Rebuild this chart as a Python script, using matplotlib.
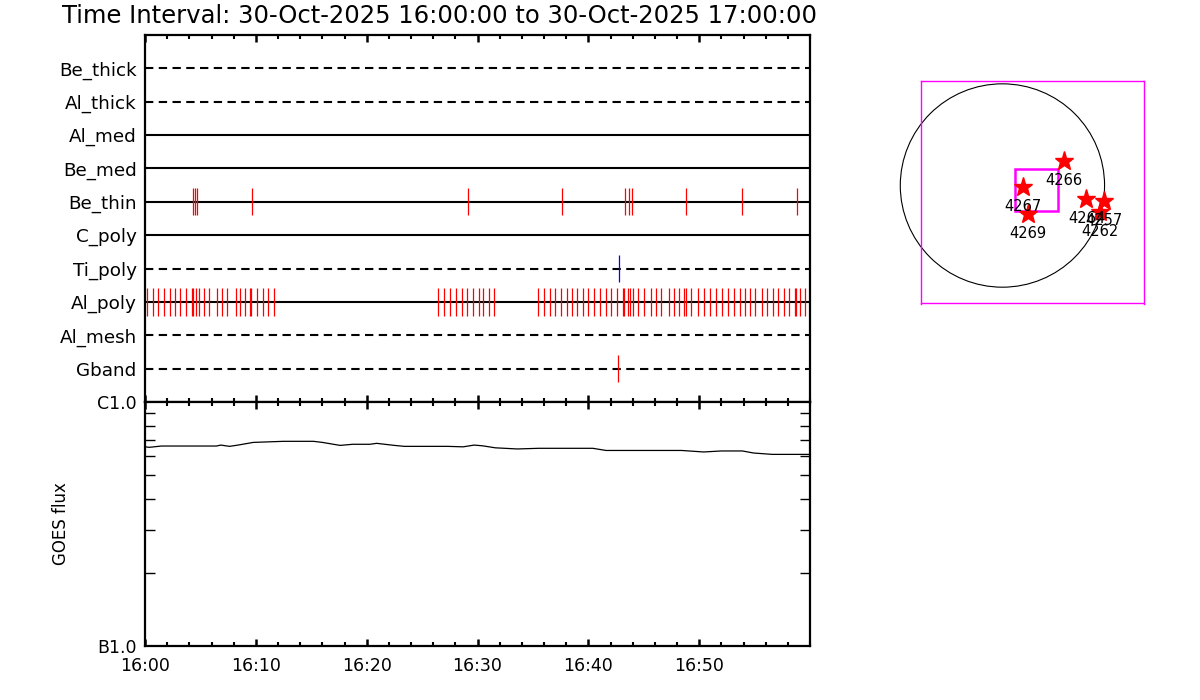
import matplotlib
matplotlib.use("Agg")
import matplotlib.pyplot as plt
import numpy as np
from matplotlib.patches import Circle, Rectangle
from matplotlib.ticker import FixedLocator, NullFormatter, LogLocator

# ---------------- data ----------------
title = "Time Interval: 30-Oct-2025 16:00:00 to 30-Oct-2025 17:00:00"

rows = ['Be_thick', 'Al_thick', 'Al_med', 'Be_med', 'Be_thin',
        'C_poly', 'Ti_poly', 'Al_poly', 'Al_mesh', 'Gband']
row_dashed = [True, True, False, False, False, False, True, False, True, True]

# event times, minutes after 16:00
be_thin_times = [4.36, 4.54, 4.72, 9.69, 29.18, 37.66, 43.35, 43.71, 43.98,
                 48.85, 53.82, 58.87]
ti_poly_times = [42.81]
gband_times = [42.72]
al_poly_times = [0.21, 0.69, 1.20, 1.71, 2.23, 2.71, 3.19, 3.70, 4.21, 4.36,
                 4.63, 4.90, 5.36, 5.81, 6.53, 6.95, 7.43, 8.18, 8.60, 9.05,
                 9.50, 9.57, 10.14, 10.62, 11.13, 11.67,
                 26.47, 27.01, 27.55, 28.09, 28.58, 29.08, 29.63, 30.11, 30.53,
                 31.05, 31.53,
                 35.50, 36.04, 36.55, 37.03, 37.57, 38.06, 38.54, 39.02, 39.53,
                 40.01, 40.50, 41.04, 41.55, 42.09, 42.57, 43.17, 43.26, 43.62,
                 43.77, 44.04, 44.52, 45.06, 45.64, 46.14, 46.60, 47.29, 47.77,
                 48.22, 48.67, 48.80, 49.28, 49.88, 50.45, 50.99, 51.53, 52.08,
                 52.59, 53.10, 53.64, 54.13, 54.63, 55.08, 55.63, 56.11, 56.65,
                 57.13, 57.61, 58.15, 58.66, 58.75, 59.13, 59.58]

# GOES flux (W/m^2) vs minutes after 16:00
goes_t = [0.0, 0.39, 1.48, 6.45, 6.84, 7.62, 8.40, 9.77, 12.5, 15.2, 16.0,
          17.6, 18.75, 20.3, 20.9, 22.5, 23.4, 27.3, 28.7, 29.7, 30.5, 31.6,
          33.6, 35.5, 40.4, 41.6, 48.4, 50.4, 52.0, 53.9, 54.9, 56.6, 59.8, 60.0]
goes_flux = [6.55e-7, 6.52e-7, 6.60e-7, 6.60e-7, 6.66e-7, 6.58e-7, 6.66e-7,
             6.83e-7, 6.90e-7, 6.90e-7, 6.83e-7, 6.64e-7, 6.71e-7, 6.71e-7,
             6.77e-7, 6.64e-7, 6.58e-7, 6.58e-7, 6.55e-7, 6.66e-7, 6.61e-7,
             6.49e-7, 6.42e-7, 6.46e-7, 6.46e-7, 6.33e-7, 6.33e-7, 6.24e-7,
             6.30e-7, 6.30e-7, 6.18e-7, 6.10e-7, 6.10e-7, 6.10e-7]

time_ticks = [0, 10, 20, 30, 40, 50]
time_labels = ['16:00', '16:10', '16:20', '16:30', '16:40', '16:50']
goes_ticks = [1e-7, 1e-6]
goes_labels = ['B1.0', 'C1.0']

# solar map (arcsec)
sun_radius = 960.0
fov_center = (278.0, -66.0)
fov_half = 1048.0
zoom_center = (319.0, -45.0)
zoom_half = 200.0
ar_numbers = ['4266', '4267', '4269', '4264', '4257', '4262']
ar_x = [577, 196, 243, 790, 951, 919]
ar_y = [236, -15, -267, -128, -144, -247]

# ---------------- figure ----------------
plt.rcParams['font.family'] = ['DejaVu Sans']
fig = plt.figure(figsize=(12, 7), dpi=100)
fig.text(62 / 1200, 1 - 16 / 700, title, ha='left', va='center', fontsize=17.5)

W, H = 1200.0, 700.0
ax_left, ax_right = 145 / W, 810 / W
ax1 = fig.add_axes([ax_left, 1 - 402 / H, ax_right - ax_left, 367 / H])
ax2 = fig.add_axes([ax_left, 1 - 646 / H, ax_right - ax_left, 244 / H])

nrows = len(rows)
row_y = {name: nrows - i for i, name in enumerate(rows)}

for name, dashed in zip(rows, row_dashed):
    y = row_y[name]
    ln, = ax1.plot([0, 60], [y, y], color='black', lw=1.5)
    if dashed:
        ln.set_dashes((4.0, 2.6))

half = 0.41
ax1.vlines(be_thin_times, row_y['Be_thin'] - half, row_y['Be_thin'] + half,
           colors='red', lw=0.9)
ax1.vlines(al_poly_times, row_y['Al_poly'] - half, row_y['Al_poly'] + half,
           colors='red', lw=0.9)
ax1.vlines(gband_times, row_y['Gband'] - half, row_y['Gband'] + half,
           colors='red', lw=0.9)
ax1.vlines(ti_poly_times, row_y['Ti_poly'] - half, row_y['Ti_poly'] + half,
           colors='#0000ff', lw=0.9)

ax1.set_xlim(0, 60)
ax1.set_ylim(0, nrows + 1)
ax1.set_yticks([row_y[n] for n in rows])
ax1.set_yticklabels(rows, fontsize=13.2)
ax1.tick_params(axis='y', length=0, pad=6)
ax1.set_xticks(time_ticks)
ax1.set_xticklabels([])
ax1.xaxis.set_minor_locator(FixedLocator(np.arange(0, 61, 2)))
ax1.tick_params(axis='x', which='major', direction='in', top=True, bottom=True,
                length=5, width=1.8)
ax1.tick_params(axis='x', which='minor', direction='in', top=True, bottom=True,
                length=3, width=1.5)
for s in ax1.spines.values():
    s.set_linewidth(1.6)

# GOES panel
ax2.plot(goes_t, goes_flux, color='black', lw=0.9)
ax2.set_yscale('log')
ax2.set_ylim(1e-7, 1e-6)
ax2.set_xlim(0, 60)
ax2.yaxis.set_major_locator(FixedLocator(goes_ticks))
ax2.set_yticklabels(goes_labels, fontsize=12.5)
ax2.yaxis.set_minor_locator(LogLocator(base=10, subs=np.arange(2, 10)))
ax2.yaxis.set_minor_formatter(NullFormatter())
ax2.tick_params(axis='y', which='major', direction='in', left=True, right=True,
                length=7, width=1.2, pad=6)
ax2.tick_params(axis='y', which='minor', direction='in', left=True, right=True,
                length=7, width=1.0)
ax2.set_xticks(time_ticks)
ax2.set_xticklabels(time_labels, fontsize=12.5)
ax2.xaxis.set_minor_locator(FixedLocator(np.arange(0, 61, 2)))
ax2.tick_params(axis='x', which='major', direction='in', top=True, bottom=True,
                length=5, width=1.8, pad=8)
ax2.tick_params(axis='x', which='minor', direction='in', top=True, bottom=True,
                length=3, width=1.5)
ax2.set_ylabel('GOES flux', fontsize=12)
ax2.yaxis.set_label_coords((70 - 145) / 665.0, 0.5)
for s in ax2.spines.values():
    s.set_linewidth(1.6)

# Solar map panel
ax3 = fig.add_axes([920.5 / W, 1 - 303.5 / H, 223 / W, 222 / H])
ax3.set_xlim(fov_center[0] - fov_half, fov_center[0] + fov_half)
ax3.set_ylim(fov_center[1] - fov_half, fov_center[1] + fov_half)
ax3.set_xticks([])
ax3.set_yticks([])
for s in ax3.spines.values():
    s.set_color('magenta')
    s.set_linewidth(1.0)
ax3.add_patch(Circle((0, 0), sun_radius, fill=False, ec='black', lw=0.8,
                     clip_on=False))
ax3.add_patch(Rectangle((zoom_center[0] - zoom_half, zoom_center[1] - zoom_half),
                        2 * zoom_half, 2 * zoom_half, fill=False, ec='magenta',
                        lw=1.8, clip_on=False))
ax3.plot(ar_x, ar_y, linestyle='none', marker='*', markersize=14,
         color='red', markeredgecolor='red', clip_on=False)
for num, x, y in zip(ar_numbers, ar_x, ar_y):
    ax3.text(x, y - 185, num, ha='center', va='center', fontsize=10.5,
             color='black', clip_on=False)

fig.savefig('out.png', dpi=100)
